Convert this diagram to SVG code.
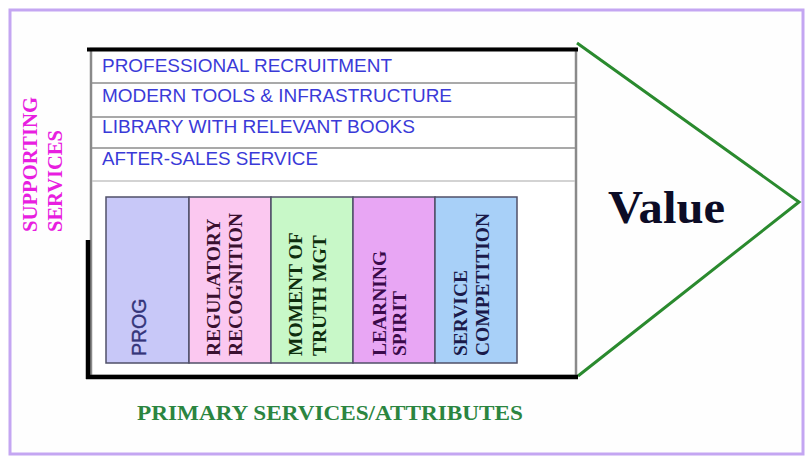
<svg xmlns="http://www.w3.org/2000/svg" width="807" height="457" viewBox="0 0 807 457">
<style>
.row{font-family:"Liberation Sans",Arial,sans-serif;font-size:17.5px;fill:#3a3ad8}
.rl{stroke:#8c8c8c;stroke-width:1.5}
.col{stroke:#505068;stroke-width:1.5}
.ct{font-family:"Liberation Serif","Times New Roman",serif;font-weight:bold;font-size:19.5px}
.lbl{font-family:"Liberation Serif","Times New Roman",serif;font-weight:bold}
</style>
<rect x="0" y="0" width="807" height="457" fill="#ffffff"/>
<rect id="frame" x="10" y="10" width="793" height="444" fill="#fefefe" stroke="#c4a6f2" stroke-width="3"/>

<g id="supporting-label">
<text class="lbl" font-size="21" fill="#e81ee0" transform="translate(37,232) rotate(-90)" textLength="135" lengthAdjust="spacingAndGlyphs">SUPPORTING</text>
<text class="lbl" font-size="21" fill="#e81ee0" transform="translate(62,232) rotate(-90)" textLength="102" lengthAdjust="spacingAndGlyphs">SERVICES</text>
</g>

<g id="value">
<polyline points="577,43 799,202 578,376" fill="none" stroke="#2a8a2e" stroke-width="3" stroke-linejoin="miter"/>
<text class="lbl" x="608" y="223" font-size="46" fill="#0c0c26" textLength="117" lengthAdjust="spacingAndGlyphs">Value</text>
</g>

<g id="main-box">
<rect x="91" y="49" width="485" height="327" fill="#ffffff" stroke="#8a8a8a" stroke-width="2.5"/>
<line x1="87" y1="49.5" x2="578" y2="49.5" stroke="#000" stroke-width="4"/>
<line x1="88" y1="240" x2="88" y2="379" stroke="#000" stroke-width="4.5"/>
<line x1="86" y1="377" x2="578" y2="377" stroke="#000" stroke-width="4.5"/>
</g>

<g id="supporting-rows">
<line class="rl" x1="92" y1="83" x2="575" y2="83"/>
<line class="rl" x1="92" y1="117" x2="575" y2="117"/>
<line class="rl" x1="92" y1="148" x2="575" y2="148"/>
<line x1="92" y1="181" x2="575" y2="181" stroke="#c4c4c4" stroke-width="1.5"/>
<text class="row" x="102" y="72" textLength="290" lengthAdjust="spacingAndGlyphs">PROFESSIONAL RECRUITMENT</text>
<text class="row" x="102" y="102" textLength="350" lengthAdjust="spacingAndGlyphs">MODERN TOOLS &amp; INFRASTRUCTURE</text>
<text class="row" x="102" y="133" textLength="313" lengthAdjust="spacingAndGlyphs">LIBRARY WITH RELEVANT BOOKS</text>
<text class="row" x="102" y="165" textLength="216" lengthAdjust="spacingAndGlyphs">AFTER-SALES SERVICE</text>
</g>

<g id="col-prog">
<rect class="col" x="106" y="197" width="83" height="166" fill="#c8c8f8"/>
<text transform="translate(146,356) rotate(-90)" font-family="Liberation Sans, Arial, sans-serif" font-size="19.5" fill="#34347a" stroke="#34347a" stroke-width="0.4">PROG</text>
</g>
<g id="col-regulatory">
<rect class="col" x="189" y="197" width="82" height="166" fill="#fbc8f0"/>
<text class="ct" fill="#3a1030" transform="translate(220,356) rotate(-90)">REGULATORY</text>
<text class="ct" fill="#3a1030" transform="translate(242,356) rotate(-90)">RECOGNITION</text>
</g>
<g id="col-moment">
<rect class="col" x="271" y="197" width="82" height="166" fill="#c8f8c8"/>
<text class="ct" fill="#0e2e0e" transform="translate(302,356) rotate(-90)">MOMENT OF</text>
<text class="ct" fill="#0e2e0e" transform="translate(326,356) rotate(-90)">TRUTH MGT</text>
</g>
<g id="col-learning">
<rect class="col" x="353" y="197" width="82" height="166" fill="#e8a6f4"/>
<text class="ct" fill="#3a0a4a" transform="translate(386,356) rotate(-90)">LEARNING</text>
<text class="ct" fill="#3a0a4a" transform="translate(406,356) rotate(-90)">SPIRIT</text>
</g>
<g id="col-service">
<rect class="col" x="435" y="197" width="82" height="166" fill="#a8d0f8"/>
<text class="ct" fill="#1a1a4a" transform="translate(467,356) rotate(-90)">SERVICE</text>
<text class="ct" fill="#1a1a4a" transform="translate(489,356) rotate(-90)">COMPETITION</text>
</g>

<g id="primary-label">
<text class="lbl" x="137" y="420" font-size="21" fill="#2b8540" textLength="386" lengthAdjust="spacingAndGlyphs">PRIMARY SERVICES/ATTRIBUTES</text>
</g>
</svg>
